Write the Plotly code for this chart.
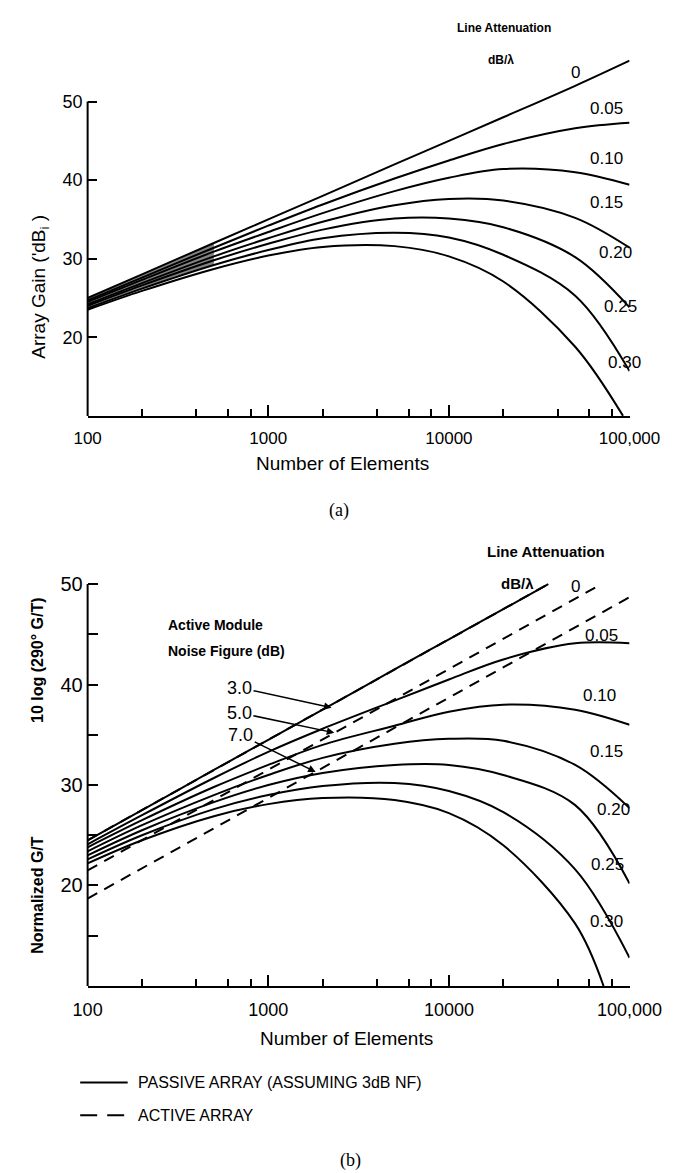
import numpy as np
import plotly.graph_objects as go

# ---------------- data ----------------
n_grid = [100, 200, 500, 1000, 2000, 5000, 10000, 20000, 50000, 100000]

# (a) Array gain (dBi) vs number of elements, per line attenuation (dB/lambda)
a_labels = ["0", "0.05", "0.10", "0.15", "0.20", "0.25", "0.30"]
a_n_030 = [100, 200, 500, 1000, 2000, 5000, 10000, 20000, 50000, 92000]
gain_000 = [25.0, 28.0, 32.0, 35.0, 38.0, 42.0, 45.0, 48.0, 52.0, 55.2]
gain_005 = [24.7, 27.6, 31.4, 34.2, 36.9, 40.2, 42.5, 44.6, 46.6, 47.3]
gain_010 = [24.5, 27.3, 30.9, 33.4, 35.8, 38.6, 40.3, 41.4, 41.0, 39.4]
gain_015 = [24.2, 26.9, 30.3, 32.6, 34.7, 36.8, 37.6, 37.4, 35.2, 31.4]
gain_020 = [24.0, 26.6, 29.8, 31.9, 33.7, 35.1, 35.1, 34.0, 30.2, 23.8]
gain_025 = [23.7, 26.2, 29.2, 31.1, 32.6, 33.3, 32.7, 30.5, 25.3, 15.7]
gain_030 = [23.5, 25.9, 28.7, 30.4, 31.5, 31.6, 30.3, 27.1, 18.8, 10.0]

# dense (stippled) band near the origin of panel (a)
band_n = [100, 150, 200, 300, 400, 500]
band_hi = [25.0, 26.8, 28.0, 29.8, 31.0, 32.0]
band_lo = [23.7, 25.3, 26.2, 27.7, 28.6, 29.2]

# (b) Normalized G/T, passive array
b_n_000 = [100, 200, 500, 1000, 2000, 5000, 10000, 20000, 35500]
gt_000 = [24.5, 27.5, 31.5, 34.5, 37.5, 41.5, 44.5, 47.5, 50.0]
gt_005 = [24.1, 27.0, 30.7, 33.3, 35.6, 38.4, 40.5, 42.5, 44.1, 44.1]
gt_010 = [23.8, 26.5, 29.8, 32.0, 34.0, 35.9, 37.3, 38.0, 37.5, 36.0]
gt_015 = [23.4, 26.0, 29.0, 31.0, 32.7, 34.1, 34.6, 34.4, 32.0, 27.7]
gt_020 = [23.0, 25.5, 28.3, 30.0, 31.2, 32.0, 32.0, 31.0, 28.0, 20.2]
gt_025 = [22.6, 25.0, 27.6, 29.0, 29.9, 30.2, 29.4, 27.3, 21.6, 12.8]
b_n_030 = [100, 200, 500, 1000, 2000, 5000, 10000, 20000, 50000, 71800]
gt_030 = [22.2, 24.5, 26.9, 28.1, 28.7, 28.5, 27.2, 24.0, 16.2, 10.0]

# (b) active array, per module noise figure (dB)
nf_labels = ["3.0", "5.0", "7.0"]
act_n_nf3 = [100, 1000, 10000, 35500]
act_nf3 = [24.5, 34.5, 44.5, 50.0]
act_n_nf5 = [100, 1000, 10000, 70000]
act_nf5 = [21.5, 31.5, 41.5, 50.0]
act_n_nf7 = [100, 1000, 10000, 100000]
act_nf7 = [18.7, 28.7, 38.7, 48.7]

# label anchor points (N, value) for curve annotations
a_lab_n = [46200, 58600, 58600, 58600, 66000, 70000, 74300]
a_lab_v = [53.7, 49.1, 42.8, 37.1, 30.8, 23.9, 16.8]
b_lab_n = [46200, 55200, 53800, 58600, 64000, 60000, 58600]
b_lab_v = [49.8, 44.9, 38.9, 33.3, 27.6, 22.1, 16.4]
# arrow heads for the noise-figure call-outs
nf_arrow_n = [2240, 2320, 1830]
nf_arrow_v = [37.7, 35.2, 31.3]

x_ticks = [100, 1000, 10000, 100000]
x_ticktext = ["100", "1000", "10000", "100,000"]
x_minor = [200, 400, 600, 800, 2000, 4000, 6000, 8000, 20000, 40000, 60000, 80000]

legend_texts = ["PASSIVE ARRAY (ASSUMING 3dB NF)", "ACTIVE ARRAY"]

# ---------------- figure ----------------
W, H = 697, 1173
FONT = "Liberation Sans"
fig = go.Figure()

line_style = dict(color="black", width=2, shape="spline", smoothing=1.0)

# stipple band panel (a)
fig.add_trace(go.Scatter(x=band_n, y=band_lo, mode="lines", line=dict(width=0),
                         showlegend=False, hoverinfo="skip", xaxis="x", yaxis="y"))
fig.add_trace(go.Scatter(x=band_n, y=band_hi, mode="lines", line=dict(width=0),
                         fill="tonexty", fillcolor="rgba(30,30,30,0.55)",
                         showlegend=False, hoverinfo="skip", xaxis="x", yaxis="y"))

a_series = [(n_grid, gain_000), (n_grid, gain_005), (n_grid, gain_010), (n_grid, gain_015),
            (n_grid, gain_020), (n_grid, gain_025), (a_n_030, gain_030)]
for (nx, vy), lab in zip(a_series, a_labels):
    fig.add_trace(go.Scatter(x=nx, y=vy, mode="lines", line=line_style, name=lab,
                             showlegend=False, xaxis="x", yaxis="y"))

# panel (b) active dashed
dash_style = dict(color="black", width=2, dash="11px,8px")
act_series = [(act_n_nf3, act_nf3), (act_n_nf5, act_nf5), (act_n_nf7, act_nf7)]
for (nx, vy), lab in zip(act_series, nf_labels):
    fig.add_trace(go.Scatter(x=nx, y=vy, mode="lines", line=dash_style,
                             name="NF " + lab, showlegend=False, xaxis="x2", yaxis="y2"))

b_series = [(b_n_000, gt_000), (n_grid, gt_005), (n_grid, gt_010), (n_grid, gt_015),
            (n_grid, gt_020), (n_grid, gt_025), (b_n_030, gt_030)]
for (nx, vy), lab in zip(b_series, a_labels):
    fig.add_trace(go.Scatter(x=nx, y=vy, mode="lines", line=line_style,
                             name=lab, showlegend=False, xaxis="x2", yaxis="y2"))

# ---------------- axes ----------------
xdom = [78 / W, 660 / W]
ya_dom = [(H - 412) / H, (H - 48.6) / H]
yb_dom = [(H - 985) / H, (H - 576) / H]


def xaxis_cfg(anchor, size):
    return dict(type="log", range=[2, 5], domain=xdom, anchor=anchor,
                showline=True, linecolor="black", linewidth=2,
                ticks="inside", ticklen=11, tickwidth=2, tickcolor="black",
                tickvals=x_ticks, ticktext=x_ticktext, ticklabelstandoff=6,
                minor=dict(tickvals=x_minor, ticks="inside", ticklen=7, tickwidth=1.5,
                           tickcolor="black", showgrid=False),
                tickfont=dict(family=FONT, size=size, color="black"),
                showgrid=False, zeroline=False, fixedrange=True)


fig.update_layout(
    width=W, height=H, margin=dict(l=0, r=0, t=0, b=0),
    paper_bgcolor="white", plot_bgcolor="white", showlegend=False,
    xaxis=xaxis_cfg("y", 17),
    yaxis=dict(range=[10, 56], domain=ya_dom, anchor="x", showline=False,
               ticks="inside", ticklen=9, tickwidth=2, tickcolor="black",
               tickvals=[20, 30, 40, 50], ticklabelstandoff=4,
               tickfont=dict(family=FONT, size=18, color="black"),
               showgrid=False, zeroline=False, fixedrange=True),
    xaxis2=xaxis_cfg("y2", 18),
    yaxis2=dict(range=[10, 50.5], domain=yb_dom, anchor="x2", showline=False,
                ticks="inside", ticklen=10, tickwidth=2, tickcolor="black",
                tickvals=[20, 30, 40, 50], ticklabelstandoff=4,
                minor=dict(tickvals=[15, 25, 35, 45], ticks="inside", ticklen=10,
                           tickwidth=2, tickcolor="black", showgrid=False),
                tickfont=dict(family=FONT, size=20, color="black"),
                showgrid=False, zeroline=False, fixedrange=True),
)

# y-axis lines only up to 50
for yref in ["y", "y2"]:
    xr = "x domain" if yref == "y" else "x2 domain"
    fig.add_shape(type="line", xref=xr, yref=yref, x0=0, x1=0, y0=10, y1=50,
                  line=dict(color="black", width=2))

# key (legend) line samples
fig.add_shape(type="line", xref="paper", yref="paper", x0=70 / W, x1=121 / W,
              y0=1 - 1082 / H, y1=1 - 1082 / H, line=dict(color="black", width=2))
fig.add_shape(type="line", xref="paper", yref="paper", x0=70 / W, x1=123 / W,
              y0=1 - 1115 / H, y1=1 - 1115 / H,
              line=dict(color="black", width=2, dash="17px,10px"))

ann = []


def paper_text(px, py, text, size, bold=False, family=FONT, xanchor="center", angle=0):
    t = "<b>" + text + "</b>" if bold else text
    ann.append(dict(x=px / W, y=1 - py / H, xref="paper", yref="paper", text=t,
                    showarrow=False, xanchor=xanchor, yanchor="middle", textangle=angle,
                    font=dict(family=family, size=size, color="black")))


# panel (a) texts
paper_text(525, 22, "Line Attenuation", 12, bold=True)
paper_text(522, 54, "dB/λ", 12, bold=True)
for lab, nx, vy in zip(a_labels, a_lab_n, a_lab_v):
    ann.append(dict(x=np.log10(nx), y=vy, xref="x", yref="y", text=lab, showarrow=False,
                    xanchor="left", yanchor="middle",
                    font=dict(family=FONT, size=17, color="black")))
paper_text(26, 282, "Array Gain ('dB<sub>i</sub> )", 19, angle=-90)
paper_text(352, 460, "Number of Elements", 19)
paper_text(348, 507, "(a)", 18, family="Liberation Serif")

# panel (b) texts
paper_text(570, 548, "Line Attenuation", 15, bold=True)
paper_text(540, 580, "dB/λ", 15, bold=True)
for lab, nx, vy in zip(a_labels, b_lab_n, b_lab_v):
    ann.append(dict(x=np.log10(nx), y=vy, xref="x2", yref="y2", text=lab, showarrow=False,
                    xanchor="left", yanchor="middle",
                    font=dict(family=FONT, size=17, color="black")))
paper_text(162, 622, "Active Module", 14, bold=True, xanchor="left")
paper_text(162, 648, "Noise Figure (dB)", 14, bold=True, xanchor="left")
offsets = [(-92, -20), (-95, -20), (-75, -37)]
for lab, nx, vy, (ox, oy) in zip(nf_labels, nf_arrow_n, nf_arrow_v, offsets):
    ann.append(dict(x=np.log10(nx), y=vy, xref="x2", yref="y2", text=lab,
                    showarrow=True, ax=ox, ay=oy, arrowhead=2, arrowsize=1,
                    arrowwidth=1.5, arrowcolor="black", standoff=0,
                    font=dict(family=FONT, size=18, color="black")))
paper_text(24, 657, "10 log (290° G/T)", 16, bold=True, angle=-90)
paper_text(24, 893, "Normalized G/T", 16, bold=True, angle=-90)
paper_text(356, 1038, "Number of Elements", 19)
paper_text(130, 1082, legend_texts[0], 16, xanchor="left")
paper_text(130, 1115, legend_texts[1], 16, xanchor="left")
paper_text(360, 1160, "(b)", 18, family="Liberation Serif")

fig.update_layout(annotations=ann)
fig.write_html("out.html")
